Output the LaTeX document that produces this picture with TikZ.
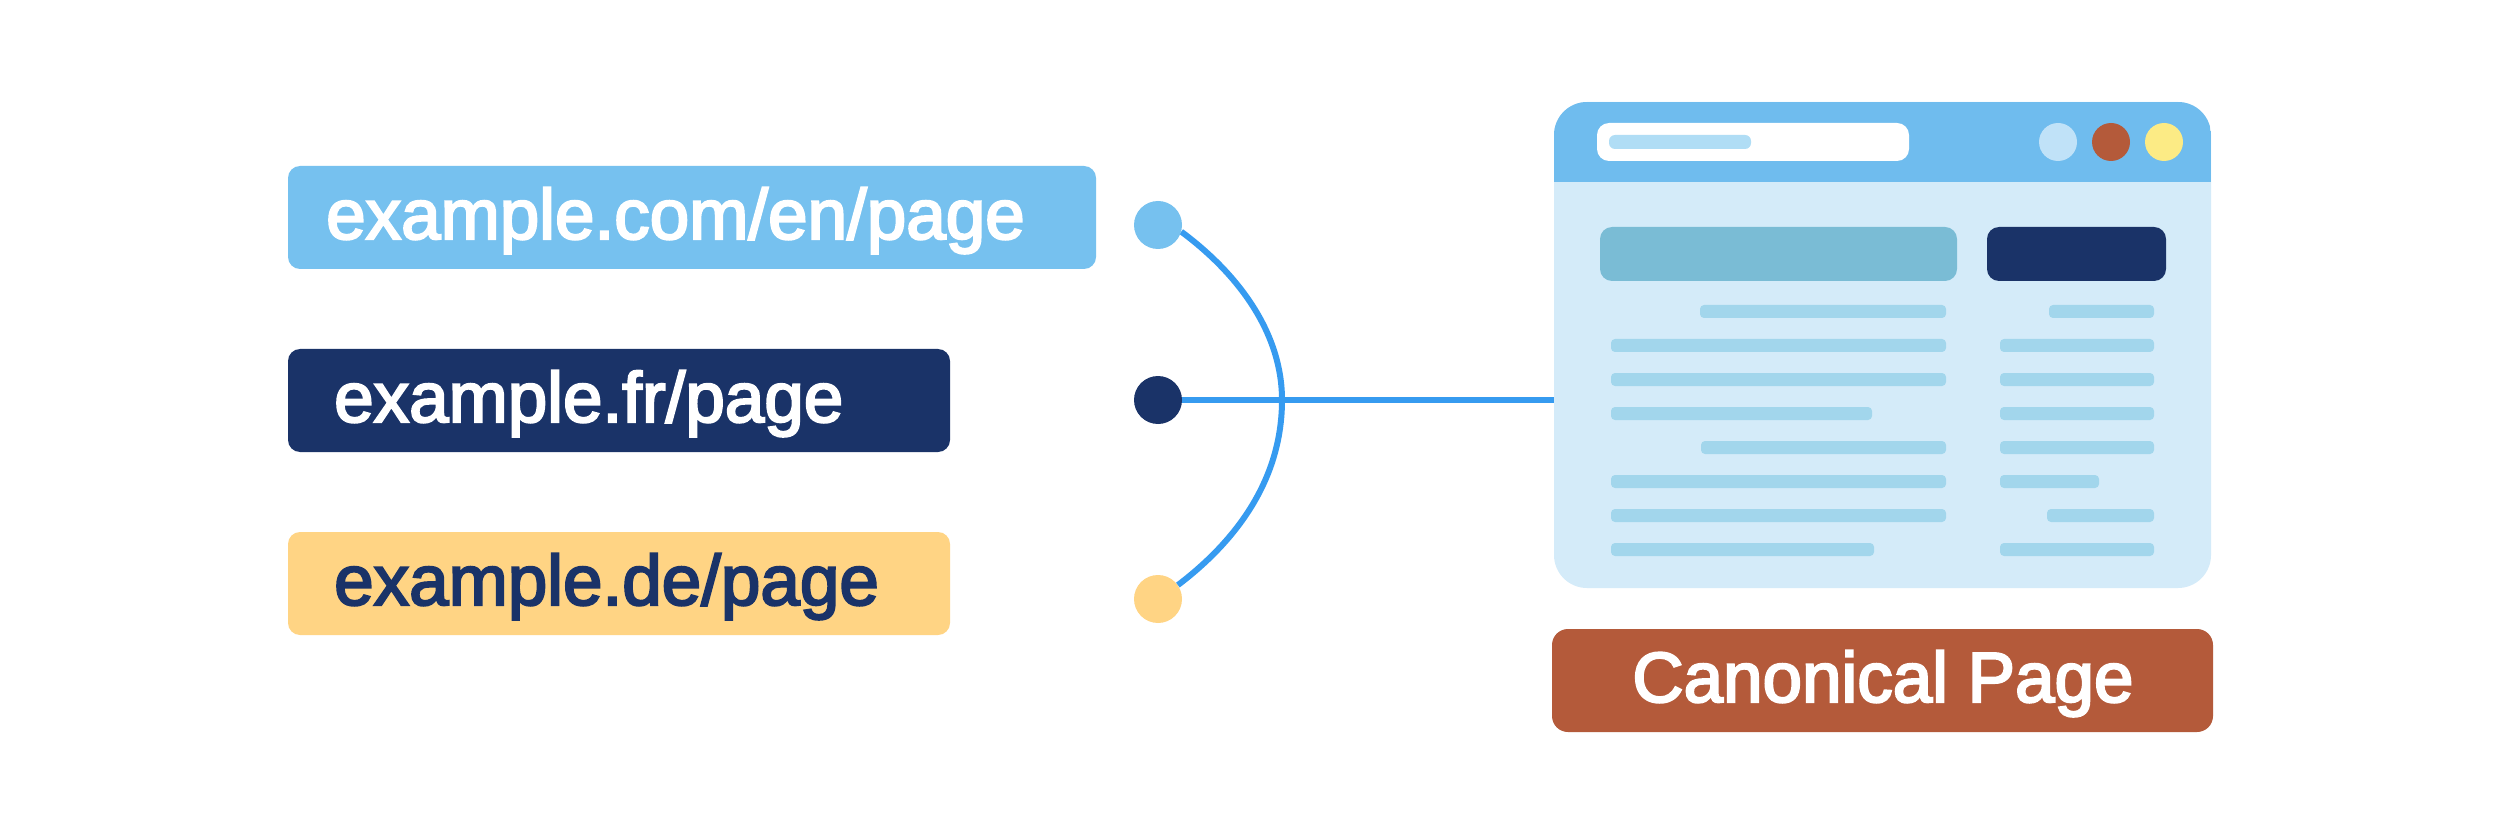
\documentclass[tikz,border=0pt]{standalone}
\usepackage{fontspec}
\setmainfont{Liberation Sans}[RawFeature={embolden=3}]
\definecolor{sky}{HTML}{76C1EF}
\definecolor{navy}{HTML}{1A3368}
\definecolor{sand}{HTML}{FFD484}
\definecolor{rust}{HTML}{B45A3A}
\definecolor{head}{HTML}{6FBCEE}
\definecolor{body}{HTML}{D4EBF9}
\definecolor{rowc}{HTML}{A2D6EC}
\definecolor{teal}{HTML}{7ABCD5}
\definecolor{wire}{HTML}{369BF0}
\definecolor{barc}{HTML}{B0DDF5}
\definecolor{dotl}{HTML}{C0E2F8}
\definecolor{doty}{HTML}{FCEB85}
\tikzset{
  x=1pt,y=-1pt,
  urlbox/.style={inner sep=0,rounded corners=12pt},
  urltext/.style={inner sep=0,anchor=base west,font=\fontsize{71}{71}\selectfont},
  port/.style={circle,inner sep=0,minimum size=48pt},
  btn/.style={circle,inner sep=0,minimum size=38pt},
  wireline/.style={draw=wire,line width=6pt},
  rowbar/.style={fill=rowc,rounded corners=4pt}
}
\newcommand{\rowbar}[3]{\fill[rowbar] (#1,#3) rectangle (#2,#3+13);}
\begin{document}
\begin{tikzpicture}
\useasboundingbox (0,0) rectangle (2501,834);
\fill[white] (0,0) rectangle (2501,834);
% connectors
\coordinate (hub) at (1282,400);
\node[port] (pa) at (1158,225) {};
\node[port] (pb) at (1158,400) {};
\node[port] (pc) at (1158,599) {};
\coordinate (winleft) at (1554,400);
\draw[wireline] (pa.-16) .. controls (1241,276) and (1282,335) .. (hub) .. controls (1282,480) and (1236,541) .. (pc.35);
\draw[wireline] (pb.center) -- (winleft);
\node[port,fill=sky] at (pa) {};
\node[port,fill=navy] at (pb) {};
\node[port,fill=sand] at (pc) {};
% url boxes
\fill[urlbox,fill=sky] (288,166) rectangle (1096,269);
\fill[urlbox,fill=navy] (288,349) rectangle (950,452);
\fill[urlbox,fill=sand] (288,532) rectangle (950,635);
\node[urltext,text=white] (ta) at (326,239) {example.com/en/page};
\node[urltext,text=white] (tb) at (334,422) {example.fr/page};
\node[urltext,text=navy] (tc) at (334,605) {example.de/page};
% window
\fill[body,rounded corners=33pt] (1554,102) rectangle (2211,588);
\begin{scope}
\clip[rounded corners=33pt] (1554,102) rectangle (2211,588);
\fill[head] (1554,102) rectangle (2211,182);
\end{scope}
\fill[white,rounded corners=12pt] (1597,123) rectangle (1909,161);
\fill[barc,rounded corners=6pt] (1609,135) rectangle (1751,149);
\node[btn,fill=dotl] (b1) at (2058,142) {};
\node[btn,fill=rust] (b2) at (2111,142) {};
\node[btn,fill=doty] (b3) at (2164,142) {};
\fill[teal,rounded corners=12pt] (1600,227) rectangle (1957,281);
\fill[navy,rounded corners=12pt] (1987,227) rectangle (2166,281);
\rowbar{1700}{1946}{305}
\rowbar{1611}{1946}{339}
\rowbar{1611}{1946}{373}
\rowbar{1611}{1872}{407}
\rowbar{1701}{1946}{441}
\rowbar{1611}{1946}{475}
\rowbar{1611}{1946}{509}
\rowbar{1611}{1874}{543}
\rowbar{2049}{2154}{305}
\rowbar{2000}{2154}{339}
\rowbar{2000}{2154}{373}
\rowbar{2000}{2154}{407}
\rowbar{2000}{2154}{441}
\rowbar{2000}{2099}{475}
\rowbar{2047}{2154}{509}
\rowbar{2000}{2154}{543}
% label
\fill[rust,rounded corners=16pt] (1552,629) rectangle (2213,732);
\node[urltext,text=white,anchor=base] (tp) at (1883,702) {Canonical Page};
\end{tikzpicture}
\end{document}
